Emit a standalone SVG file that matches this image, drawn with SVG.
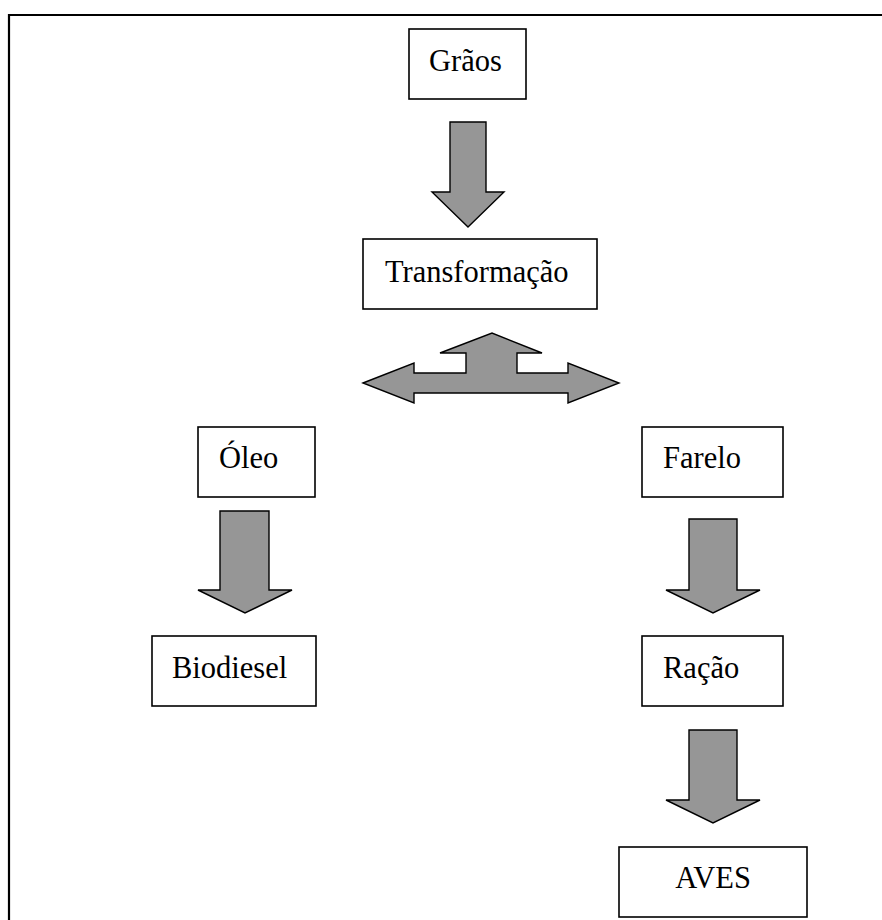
<svg xmlns="http://www.w3.org/2000/svg" width="882" height="920" viewBox="0 0 882 920">
<style>
.box{fill:#fff;stroke:#000;stroke-width:1.6}
.lbl{font-family:"Liberation Serif","Times New Roman",serif;font-size:30.5px;fill:#000}
.arr{fill:#969696;stroke:#000;stroke-width:1.4;stroke-linejoin:miter}
</style>
<rect x="0" y="0" width="882" height="920" fill="#fff"/>
<path d="M9,935 V15 H890" fill="none" stroke="#000" stroke-width="2.2"/>
<g id="connectors">
<polygon class="arr" points="450,122 486,122 486,192 504,192 468,227 432,192 450,192"/>
<polygon class="arr" points="363,383 414,363 414,373 466,373 466,353 440,353 492,333 542,353 517,353 517,373 568,373 568,363 619,383 568,403 568,393 414,393 414,403"/>
<polygon class="arr" points="220,511 269,511 269,590 292,590 245,613 198,590 220,590"/>
<polygon class="arr" points="689,519 737,519 737,590 760,590 713,613 666,590 689,590"/>
<polygon class="arr" points="689,730 737,730 737,800 760,800 713,823 666,800 689,800"/>
</g>
<g id="graos"><rect class="box" x="409" y="29" width="117" height="70"/><text class="lbl" x="429" y="71">Grãos</text></g>
<g id="transformacao"><rect class="box" x="363" y="239" width="234" height="70"/><text class="lbl" x="385" y="282">Transformação</text></g>
<g id="oleo"><rect class="box" x="198" y="427" width="117" height="70"/><text class="lbl" x="219" y="468">Óleo</text></g>
<g id="farelo"><rect class="box" x="642" y="427" width="141" height="70"/><text class="lbl" x="663" y="468">Farelo</text></g>
<g id="biodiesel"><rect class="box" x="152" y="636" width="164" height="70"/><text class="lbl" x="172" y="678">Biodiesel</text></g>
<g id="racao"><rect class="box" x="642" y="636" width="141" height="70"/><text class="lbl" x="663" y="678">Ração</text></g>
<g id="aves"><rect class="box" x="619" y="847" width="188" height="70"/><text class="lbl" x="713" y="888" text-anchor="middle">AVES</text></g>
</svg>
